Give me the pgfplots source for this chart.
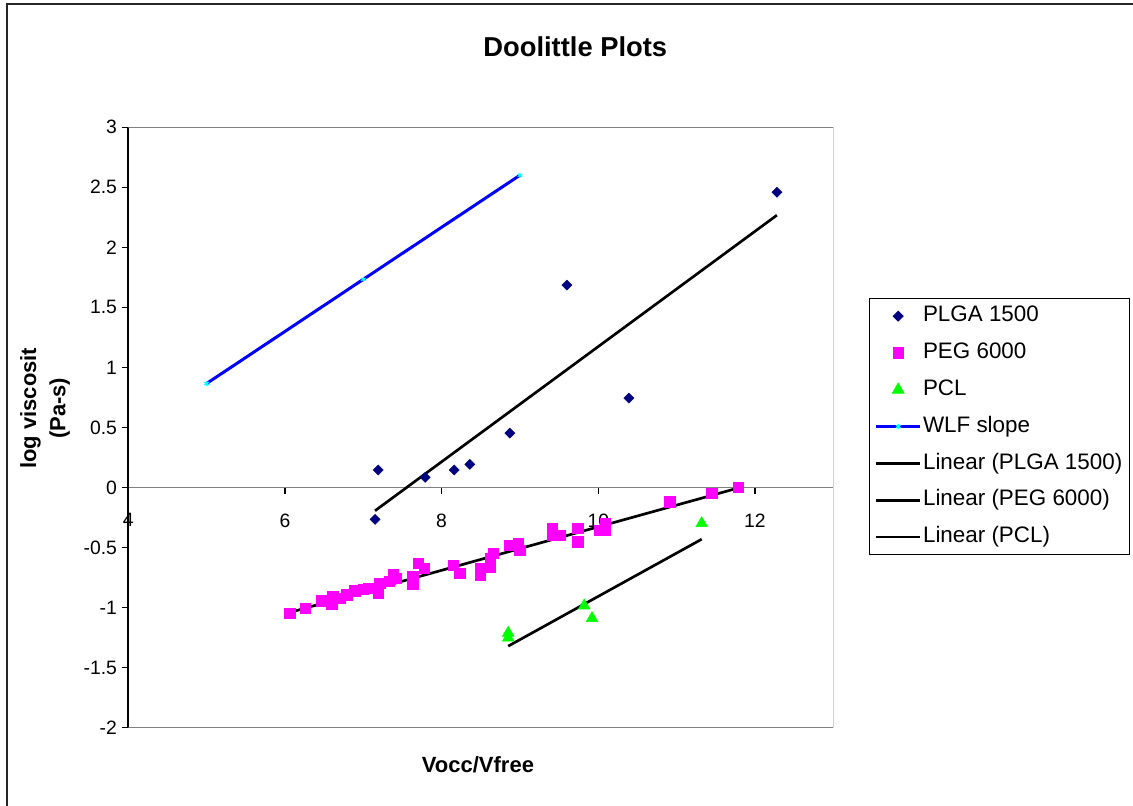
\documentclass[border=0pt]{standalone}
\usepackage{fontspec}
\setmainfont{Liberation Sans}
\usepackage{pgfplots}
\pgfplotsset{compat=1.18}
\definecolor{navy}{HTML}{000080}
\definecolor{mag}{HTML}{FF00FF}
\definecolor{lime}{HTML}{00FF00}
\definecolor{wlfblue}{HTML}{0000FF}
\definecolor{cyanm}{HTML}{00FFFF}
\definecolor{axgray}{HTML}{808080}
\begin{document}
\begin{tikzpicture}
\useasboundingbox (-96.2pt,-57.9pt) rectangle (753.5pt,545.85pt);
\draw[line width=1.5pt, black!85] (-90.6pt,-70pt) -- (-90.6pt,543pt) -- (770pt,543pt);
\begin{axis}[
  scale only axis, width=528.75pt, height=450.5pt,
  xmin=4, xmax=13, ymin=-2, ymax=3,
  axis x line=middle, axis y line=left,
  axis line style={-},
  x axis line style={axgray, line width=1.2pt},
  y axis line style={black, line width=1.2pt},
  xtick={4,6,8,10,12}, xticklabels={4,6,8,10,12},
  ytick={-2,-1.5,-1,-0.5,0,0.5,1,1.5,2,2.5,3},
  yticklabels={-2,-1.5,-1,-0.5,0,0.5,1,1.5,2,2.5,3},
  hide obscured x ticks=false, hide obscured y ticks=false,
  tick style={black, line width=0.9pt},
  major tick length=5pt,
  xtick align=outside, ytick align=outside,
  tick label style={font=\fontsize{14.5}{17}\selectfont},
  xticklabel style={yshift=-11pt},
  title={Doolittle Plots},
  title style={font=\bfseries\fontsize{20.5}{24}\selectfont, at={(axis description cs:0.634,1.121)}, anchor=center},
  xlabel={Vocc/Vfree},
  xlabel style={font=\bfseries\fontsize{16.5}{20}\selectfont, at={(axis description cs:0.496,-0.062)}, anchor=center},
  ylabel={log viscosit\\(Pa-s)},
  ylabel style={font=\bfseries\fontsize{16.5}{22}\selectfont, align=center, at={(axis description cs:-0.118,0.532)}, anchor=center, rotate=0},
  legend style={at={(axis description cs:1.0506,0.7154)}, anchor=north west, draw=black, line width=0.6pt, fill=white,
    font=\fontsize{16.8}{19}\selectfont, inner xsep=4pt, inner ysep=4.5pt, row sep=10.1pt,
    nodes={text height=12pt, text depth=3.5pt, inner sep=1pt}},
  legend cell align=left,
  legend image code/.code={\draw[mark repeat=2,mark phase=2] plot coordinates {(0pt,0pt) (16.5pt,0pt) (33pt,0pt)};},
]
\addplot[only marks, mark=diamond*, mark size=3.75pt, mark options={xscale=1.33, fill=navy, draw=navy}] coordinates {
(7.19,0.146) (7.15,-0.265) (7.79,0.085) (8.16,0.146) (8.36,0.193) (8.87,0.453) (9.60,1.685) (10.39,0.745) (12.28,2.458)};
\addlegendentry{PLGA 1500}
\addplot[only marks, mark=square*, mark size=3.9pt, mark options={fill=mag, draw=mag}] coordinates {
(6.06,-1.044) (6.26,-1.005) (6.47,-0.944) (6.60,-0.97) (6.61,-0.91) (6.70,-0.92) (6.79,-0.894) (6.89,-0.86)
(7.00,-0.845) (7.06,-0.836) (7.19,-0.878) (7.21,-0.795) (7.33,-0.778) (7.38,-0.72) (7.42,-0.753) (7.63,-0.80)
(7.63,-0.736) (7.70,-0.628) (7.78,-0.67) (8.15,-0.645) (8.23,-0.714) (8.49,-0.728) (8.49,-0.67) (8.62,-0.659)
(8.62,-0.587) (8.66,-0.547) (8.87,-0.478) (8.98,-0.464) (9.00,-0.52) (9.41,-0.34) (9.41,-0.395) (9.51,-0.395)
(9.74,-0.337) (9.74,-0.451) (10.01,-0.354) (10.09,-0.295) (10.09,-0.354) (10.91,-0.118) (11.45,-0.048) (11.79,0.002)};
\addlegendentry{PEG 6000}
\addplot[only marks, mark=triangle*, mark size=5pt, mark options={fill=lime, draw=lime}] coordinates {
(8.85,-1.21) (8.85,-1.25) (9.82,-0.983) (9.92,-1.088) (11.32,-0.298)};
\addlegendentry{PCL}
\addplot[wlfblue, line width=2.25pt, mark=asterisk, mark size=2pt, mark options={cyanm, line width=0.8pt}] coordinates {
(5,0.866) (7,1.733) (9,2.6)};
\addlegendentry{WLF slope}
\addplot[black, line width=2pt] coordinates {(7.15,-0.193) (12.28,2.267)};
\addlegendentry{Linear (PLGA 1500)}
\addplot[black, line width=2pt] coordinates {(6.06,-1.04) (11.79,-0.003)};
\addlegendentry{Linear (PEG 6000)}
\addplot[black, line width=2pt] coordinates {(8.85,-1.32) (11.32,-0.43)};
\addlegendentry{Linear (PCL)}
\draw[axgray, line width=0.9pt] (rel axis cs:0,1) -- (rel axis cs:1,1) -- (rel axis cs:1,0) -- (rel axis cs:0,0);
\end{axis}
\end{tikzpicture}
\end{document}
